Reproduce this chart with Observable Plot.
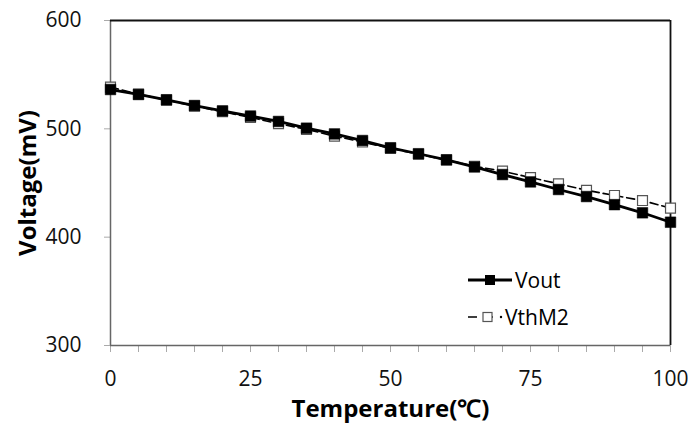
<!DOCTYPE html>
<html>
<head>
<meta charset="utf-8">
<script src="https://cdn.jsdelivr.net/npm/d3@7"></script>
<script src="https://cdn.jsdelivr.net/npm/@observablehq/plot@0.6"></script>
<style>
  html, body { margin: 0; padding: 0; background: #fff; }
  #wrap { position: relative; width: 688px; height: 428px; font-family: "Open Sans", sans-serif; }
  #legend { position: absolute; left: 466px; top: 261px; font-size: 21px; color: #000; }
  #legend .row { display: flex; align-items: center; height: 37px; }
  #legend svg { display: block; margin-right: 1px; }
</style>
</head>
<body>
<div id="wrap"></div>
<script>
const temperature = [0,5,10,15,20,25,30,35,40,45,50,55,60,65,70,75,80,85,90,95,100];
const vout  = [536.3,531.7,526.8,521.5,516.6,511.8,506.8,500.6,495.3,489.2,482.5,477.0,471.4,464.8,457.8,451.0,444.0,437.5,430.0,422.5,413.8];
const vthM2 = [538.5,532.0,526.5,521.0,515.8,510.5,504.8,499.5,493.3,487.8,482.0,476.5,471.2,465.5,461.0,455.0,449.3,443.3,438.5,433.8,426.8];
const xMinorTicks = [0,5,10,15,20,25,30,35,40,45,50,55,60,65,70,75,80,85,90,95,100];
const xTickLabels = [0,25,50,75,100];
const yTicks = [300,400,500,600];
const seriesNames = ["Vout","VthM2"];

const dVout = temperature.map((t,i)=>({t, v: vout[i]}));
const dVth  = temperature.map((t,i)=>({t, v: vthM2[i]}));

const plot = Plot.plot({
  width: 688,
  height: 428,
  marginLeft: 110,
  marginRight: 18,
  marginTop: 20,
  marginBottom: 83,
  style: { fontFamily: "Open Sans, sans-serif", fontSize: "21px", color: "#000", background: "#fff" },
  x: { domain: [0,100] },
  y: { domain: [300,600] },
  marks: [
    Plot.axisX({ ticks: xMinorTicks, tickFormat: () => "", tickSize: 7, stroke: "#aaa", label: null }),
    Plot.axisX({ ticks: xTickLabels, tickSize: 0, tickPadding: 26, fontSize: 21, fill: "#111", label: null }),
    Plot.axisY({ ticks: yTicks, tickSize: 6, stroke: "#aaa", tickPadding: 23, fontSize: 21, fill: "#111", label: null }),
    Plot.ruleY([300], { stroke: "#666", strokeWidth: 1.5 }),
    Plot.ruleX([0], { stroke: "#666", strokeWidth: 1.5 }),
    Plot.ruleY([600], { stroke: "#111", strokeWidth: 1.8 }),
    Plot.ruleX([100], { stroke: "#111", strokeWidth: 1.8 }),
    Plot.line(dVth, { x: "t", y: "v", stroke: "#000", strokeWidth: 1.6, strokeDasharray: "8,4" }),
    Plot.dot(dVth, { x: "t", y: "v", symbol: "square", r: 5.6, fill: "#fff", stroke: "#555", strokeWidth: 1.2 }),
    Plot.line(dVout, { x: "t", y: "v", stroke: "#000", strokeWidth: 2.8 }),
    Plot.dot(dVout, { x: "t", y: "v", symbol: "square", r: 6, fill: "#000", stroke: "#000", strokeWidth: 0.5 }),
    Plot.text(["Temperature(℃)"], { frameAnchor: "bottom", lineAnchor: "middle", textAnchor: "middle", dy: 64, fontSize: 24, fontWeight: "bold", fill: "#000", text: d => d }),
    Plot.text(["Voltage(mV)"], { frameAnchor: "left", textAnchor: "middle", lineAnchor: "middle", dx: -82, rotate: -90, fontSize: 24, fontWeight: "bold", fill: "#000", text: d => d })
  ]
});
const wrap = document.getElementById("wrap");
wrap.appendChild(plot);

const legend = document.createElement("div");
legend.id = "legend";
legend.innerHTML = `
  <div class="row"><svg width="48" height="14"><line x1="2" y1="7" x2="46" y2="7" stroke="#000" stroke-width="2.8"/><rect x="19" y="2" width="10" height="10" fill="#000"/></svg><span>${seriesNames[0]}</span></div>
  <div class="row"><svg width="38" height="14"><line x1="2" y1="7" x2="36" y2="7" stroke="#000" stroke-width="1.6" stroke-dasharray="9,14,2,20"/><rect x="17" y="2.5" width="9" height="9" fill="#fff" stroke="#555" stroke-width="1.2"/><circle cx="35" cy="7" r="1.2" fill="#000"/></svg><span>${seriesNames[1]}</span></div>`;
wrap.appendChild(legend);
</script>
</body>
</html>
